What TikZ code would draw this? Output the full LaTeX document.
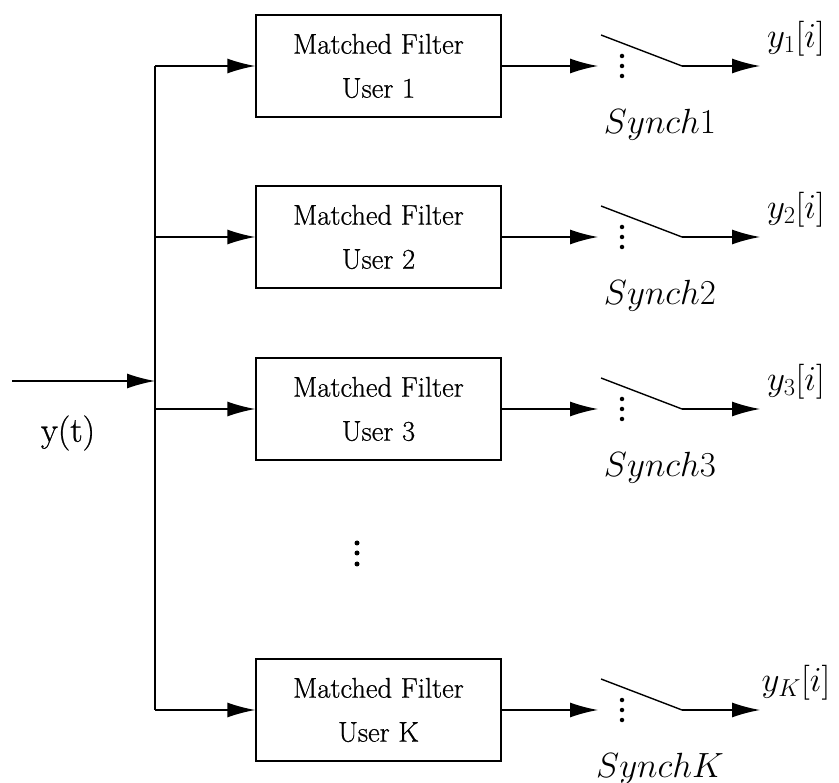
\RequirePackage{fix-cm}
\documentclass[tikz,border=0pt]{standalone}
\usepackage{fontspec}
\newfontfamily\heavyrm{Latin Modern Roman}[FakeBold=0.7]
\usetikzlibrary{arrows.meta}
\begin{document}
\begin{tikzpicture}[x=1pt,y=-1pt,
  line width=1.4pt,
  arr/.style={-{Latex[length=28pt,width=15pt]}},
  filt/.style={draw,rectangle,minimum width=245pt,minimum height=102pt,align=center,
    font=\heavyrm\fontsize{28.5}{44}\selectfont,inner sep=0pt},
  lab/.style={font=\fontsize{35}{40}\selectfont,inner sep=0pt},
  dotn/.style={circle,fill,inner sep=0pt,minimum size=5pt}]
\useasboundingbox (0,0) rectangle (839,783);
% input
\coordinate (in) at (12,381);
\coordinate (busin) at (155,381);
\coordinate (bustop) at (155,66);
\coordinate (busbot) at (155,710);
\draw (bustop) -- (busbot);
\draw[arr] (in) -- (busin);
\node[lab] (yt) at (68,433) {\heavyrm y(t)};
% branches
\foreach \c/\n/\u/\s in {66/1/1/1, 237/2/2/2, 409/3/3/3, 710/4/K/K}{
  \node[filt] (mf\n) at (378.5,\c) {Matched Filter\\User \u};
  \coordinate (b\n) at (155,\c);
  \draw[arr] (b\n) -- (mf\n.west);
  \coordinate (sa\n) at (598,\c);
  \draw[arr] (mf\n.east) -- (sa\n);
  \coordinate (st\n) at (601,\c-31);
  \coordinate (se\n) at (682,\c);
  \draw (st\n) -- (se\n);
  \node[dotn,minimum size=4.5pt] (d\n a) at (622,\c-10) {};
  \node[dotn,minimum size=4.5pt] (d\n b) at (622,\c) {};
  \node[dotn,minimum size=4.5pt] (d\n c) at (622,\c+10) {};
  \coordinate (out\n) at (760,\c);
  \draw[arr] (se\n) -- (out\n);
  \node[lab] (sy\n) at (660,\c+59) {$Synch\s$};
  \node[lab] (y\n) at (796,\c-27) {$y_{\s}[i]$};
}
% vertical dots
\node[dotn] (v1) at (357,543) {};
\node[dotn] (v2) at (357,553) {};
\node[dotn] (v3) at (357,564) {};
\end{tikzpicture}
\end{document}
